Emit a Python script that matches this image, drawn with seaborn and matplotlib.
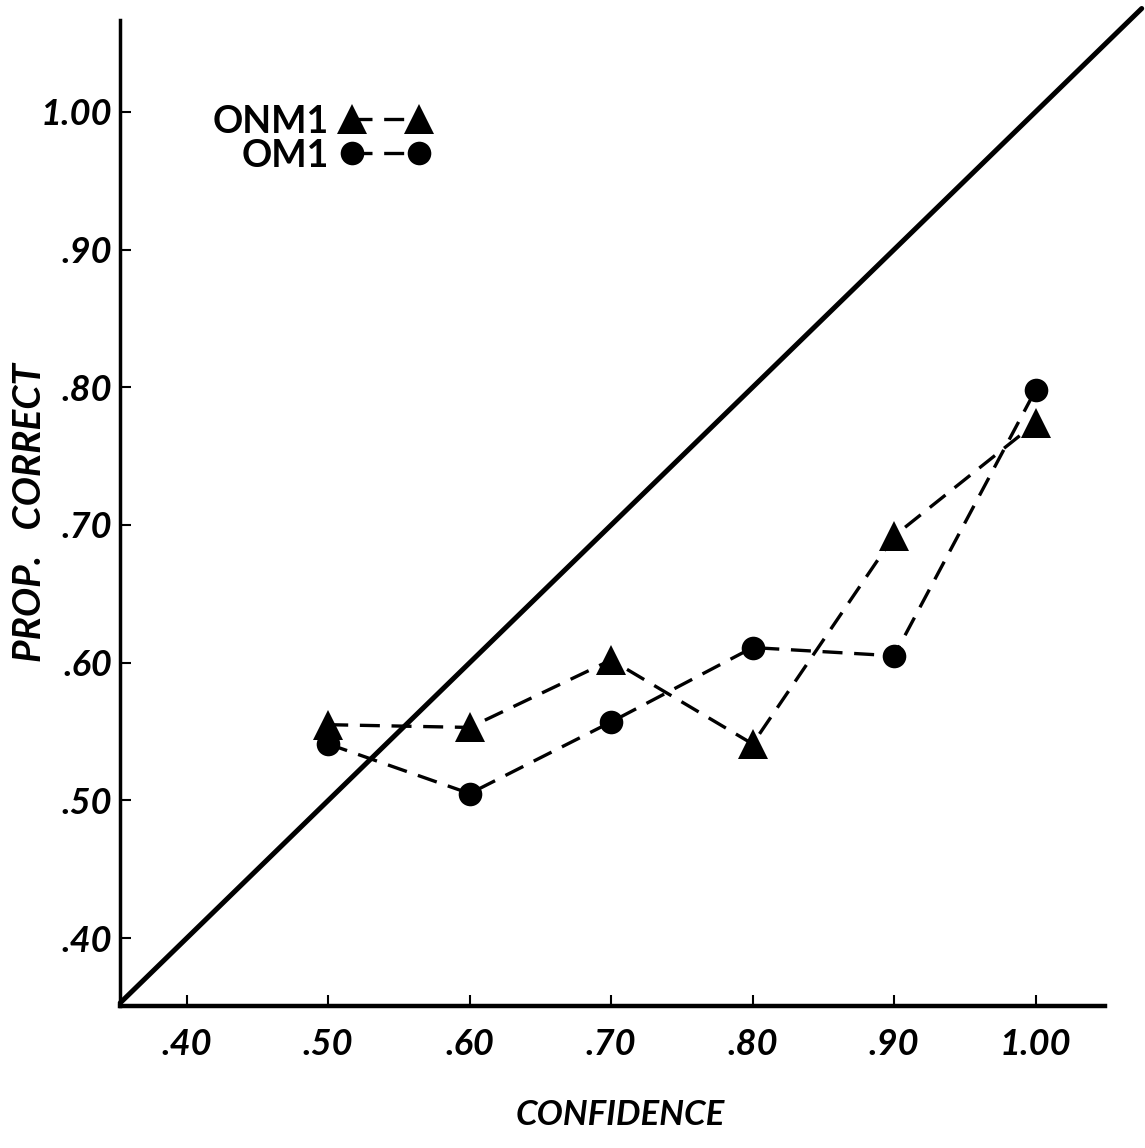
import pandas as pd
import seaborn as sns
import matplotlib.pyplot as plt

# Estilo
sns.set_theme(style="ticks")
plt.rcParams['font.family'] = ['Lato', 'DejaVu Sans']

# Datos
confidence = [0.50, 0.60, 0.70, 0.80, 0.90, 1.00]
onm1 = [0.555, 0.553, 0.602, 0.541, 0.692, 0.774]
om1 = [0.541, 0.505, 0.557, 0.611, 0.605, 0.798]
tick_vals = [0.40, 0.50, 0.60, 0.70, 0.80, 0.90, 1.00]
tick_labels = [".40", ".50", ".60", ".70", ".80", ".90", "1.00"]

df = pd.DataFrame({
    "conf": confidence * 2,
    "prop": onm1 + om1,
    "cond": ["ONM1"] * len(onm1) + ["OM1"] * len(om1),
})

fig = plt.figure(figsize=(11.45, 11.48), dpi=100)
ax = fig.add_axes([0.105, 0.124, 0.86, 0.859])

# Linea diagonal (calibracion perfecta)
diag = [0.353, 1.075]
ax.plot(diag, diag, color="black", lw=3.6, clip_on=False, zorder=1)

sns.lineplot(
    data=df, x="conf", y="prop", hue="cond", style="cond",
    palette={"ONM1": "black", "OM1": "black"},
    markers={"ONM1": "^", "OM1": "o"},
    dashes={"ONM1": (6, 3.5), "OM1": (6, 3.5)},
    markersize=17, lw=2.4, markeredgewidth=0, ax=ax, zorder=3,
)
# triangulos un poco mas grandes
for ln in ax.lines:
    if ln.get_marker() == "^":
        ln.set_markersize(21)

ax.set_xlim(0.353, 1.049)
ax.set_ylim(0.351, 1.067)
ax.set_xticks(tick_vals)
ax.set_xticklabels(tick_labels)
ax.set_yticks(tick_vals)
ax.set_yticklabels(tick_labels)
ax.tick_params(direction="in", length=8, width=1.5, colors="black",
               labelsize=26)
ax.tick_params(axis="x", pad=16)
ax.tick_params(axis="y", pad=6)
for lab in ax.get_xticklabels() + ax.get_yticklabels():
    lab.set_style("italic")
    lab.set_fontweight("bold")

sns.despine(ax=ax)
ax.spines["left"].set_linewidth(2.5)
ax.spines["bottom"].set_linewidth(3.2)
ax.spines["left"].set_color("black")
ax.spines["bottom"].set_color("black")

ax.set_xlabel("CONFIDENCE", fontsize=25, style="italic", fontweight="bold",
              color="black")
ax.set_ylabel("PROP.   CORRECT", fontsize=28, style="italic", fontweight="bold",
              color="black")
ax.xaxis.set_label_coords(0.508, -0.095)
ax.yaxis.set_label_coords(-0.074, 0.5)

handles, labels = ax.get_legend_handles_labels()
leg = ax.legend(handles, labels, loc="upper left", bbox_to_anchor=(0.06, 0.948),
                frameon=False, numpoints=2, markerfirst=False, handlelength=2.4,
                labelspacing=0.0, handletextpad=0.3, labelcolor="black",
                prop={"size": 27, "weight": "bold"})

fig.savefig("out.png", dpi=100)
